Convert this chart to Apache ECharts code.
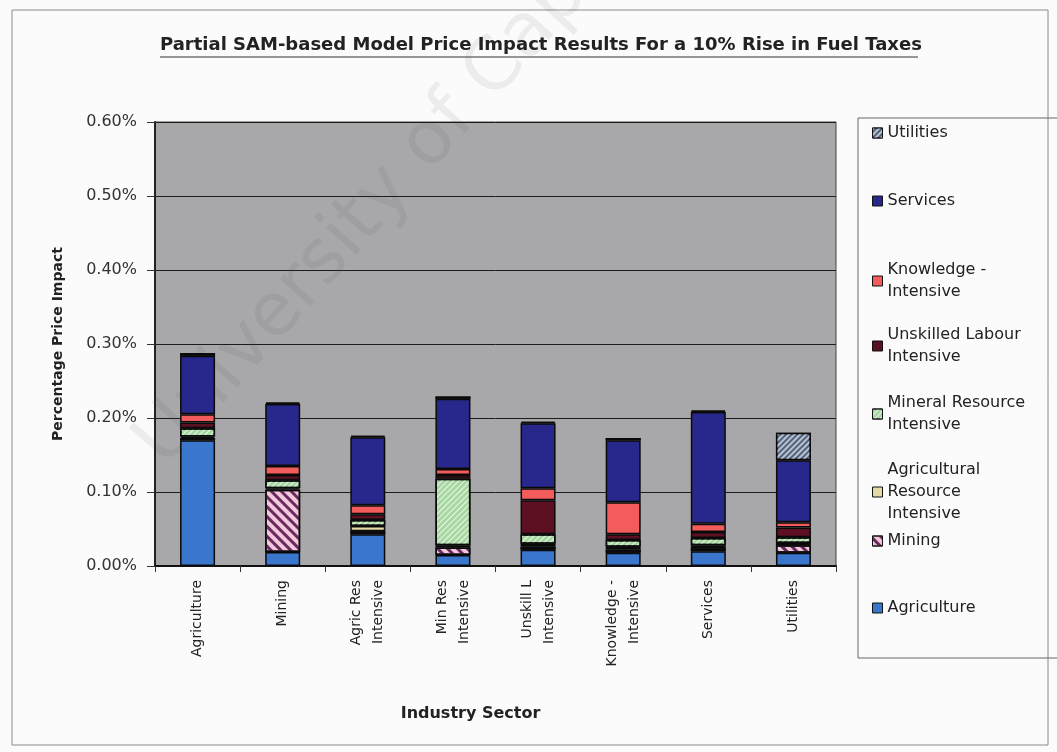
<!DOCTYPE html>
<html>
<head>
<meta charset="utf-8">
<script src="https://cdn.jsdelivr.net/npm/echarts@6/dist/echarts.min.js"></script>
<style>
  html, body { margin: 0; padding: 0; background: #fbfbfb; }
  #chart { width: 1057px; height: 752px; }
</style>
</head>
<body>
<div id="chart"></div>
<script>
// Industry sectors on the x axis
const categories = [
  'Agriculture', 'Mining', 'Agric Res\nIntensive', 'Min Res\nIntensive',
  'Unskill L\nIntensive', 'Knowledge -\nIntensive', 'Services', 'Utilities'
];

// Y axis ticks (percentage price impact)
const yTicks = [0, 0.1, 0.2, 0.3, 0.4, 0.5, 0.6];

// Contribution of each input sector to the price impact (%), stacked bottom to top
const agriculture = [0.170, 0.019, 0.043, 0.015, 0.022, 0.018, 0.020, 0.018];
const mining      = [0.003, 0.084, 0.004, 0.010, 0.004, 0.004, 0.004, 0.010];
const agricRes    = [0.002, 0.002, 0.007, 0.003, 0.004, 0.004, 0.004, 0.003];
const mineralRes  = [0.011, 0.011, 0.008, 0.090, 0.013, 0.009, 0.010, 0.008];
const unskilled   = [0.008, 0.007, 0.008, 0.005, 0.046, 0.008, 0.008, 0.013];
const knowledge   = [0.011, 0.012, 0.012, 0.008, 0.016, 0.043, 0.011, 0.007];
const services    = [0.079, 0.084, 0.092, 0.095, 0.088, 0.084, 0.151, 0.084];
const utilities   = [0.004, 0.002, 0.002, 0.003, 0.002, 0.003, 0.002, 0.037];

const seriesNames = [
  'Agriculture', 'Mining', 'Agricultural Resource Intensive', 'Mineral Resource Intensive',
  'Unskilled Labour Intensive', 'Knowledge - Intensive', 'Services', 'Utilities'
];
const legendLabels = [
  'Agriculture', 'Mining', 'Agricultural\nResource\nIntensive', 'Mineral Resource\nIntensive',
  'Unskilled Labour\nIntensive', 'Knowledge -\nIntensive', 'Services', 'Utilities'
];
const seriesValues = [agriculture, mining, agricRes, mineralRes, unskilled, knowledge, services, utilities];

const FONT = 'DejaVu Sans';

// Fill colours and hatching for each stacked segment
const segmentStyles = [
  { color: '#3a76cc' },
  { color: '#f2c8dc', decal: { symbol: 'rect', symbolSize: 1, rotation: Math.PI / 4, dashArrayX: [1, 0], dashArrayY: [3, 4], color: '#6a2a5e' } },
  { color: '#e4daa4' },
  { color: '#a8d8a2', decal: { symbol: 'rect', symbolSize: 1, rotation: -Math.PI / 4, dashArrayX: [1, 0], dashArrayY: [1, 3], color: 'rgba(255,255,255,0.75)' } },
  { color: '#5c1022' },
  { color: '#f25c5c' },
  { color: '#28288c' },
  { color: '#53627c', decal: { symbol: 'rect', symbolSize: 1, rotation: -Math.PI / 4, dashArrayX: [1, 0], dashArrayY: [2, 2], color: '#b9c2d2' } }
];

// Vertical centre of each legend entry's first line
const legendCentres = [607, 540, 472, 405, 337, 272, 200, 132];

const chart = echarts.init(document.getElementById('chart'));

const series = seriesNames.map((name, i) => ({
  name: name,
  type: 'bar',
  stack: 'impact',
  barWidth: 35,
  data: seriesValues[i],
  itemStyle: Object.assign({ borderColor: '#0a0a0a', borderWidth: 1.5 }, segmentStyles[i]),
  emphasis: { disabled: true }
}));

const legends = seriesNames.map((name, i) => ({
  data: [name],
  orient: 'vertical',
  left: 872,
  top: legendCentres[i] - 10,
  padding: 0,
  icon: 'rect',
  itemWidth: 10,
  itemHeight: 10,
  itemGap: 0,
  selectedMode: false,
  itemStyle: { borderColor: '#111', borderWidth: 1 },
  formatter: () => legendLabels[i],
  textStyle: { fontFamily: FONT, fontSize: 16, color: '#222', lineHeight: 22, height: 22 }
}));

chart.setOption({
  backgroundColor: '#fbfbfb',
  animation: false,
  title: {
    text: 'Partial SAM-based Model Price Impact Results For a 10% Rise in Fuel Taxes',
    left: 160,
    top: 36,
    padding: 0,
    textStyle: { fontFamily: FONT, fontSize: 18, fontWeight: 'bold', color: '#222' }
  },
  legend: legends,
  grid: {
    left: 155, right: 221, top: 122, bottom: 186,
    show: true, backgroundColor: '#a8a8aa', borderColor: '#444', borderWidth: 1
  },
  xAxis: {
    type: 'category',
    data: categories,
    name: 'Industry Sector',
    nameLocation: 'middle',
    nameGap: 140,
    nameTextStyle: { fontFamily: FONT, fontSize: 16, fontWeight: 'bold', color: '#222', padding: [0, 50, 0, 0] },
    axisLine: { lineStyle: { color: '#111', width: 2 } },
    axisTick: { show: true, length: 6, lineStyle: { color: '#333' } },
    axisLabel: { rotate: 90, margin: 14, fontFamily: FONT, fontSize: 14, lineHeight: 22, color: '#222', interval: 0 }
  },
  yAxis: {
    type: 'value',
    min: yTicks[0],
    max: yTicks[yTicks.length - 1],
    interval: 0.1,
    name: 'Percentage Price Impact',
    nameLocation: 'middle',
    nameGap: 90,
    nameTextStyle: { fontFamily: FONT, fontSize: 14, fontWeight: 'bold', color: '#222' },
    axisLine: { show: true, lineStyle: { color: '#222', width: 2 } },
    axisTick: { show: true, length: 8, lineStyle: { color: '#333' } },
    axisLabel: { margin: 18, fontFamily: FONT, fontSize: 16, color: '#333', formatter: v => v.toFixed(2) + '%' },
    splitLine: { show: true, lineStyle: { color: '#1c1c1c', width: 1 } }
  },
  series: series,
  graphic: [
    { type: 'rect', silent: true, z: -1, shape: { x: 12, y: 10, width: 1036, height: 735 }, style: { fill: 'none', stroke: '#8a8a8a', lineWidth: 1 } },
    { type: 'rect', silent: true, shape: { x: 858, y: 118, width: 230, height: 540 }, style: { fill: 'none', stroke: '#666', lineWidth: 1 } },
    { type: 'line', silent: true, shape: { x1: 160, y1: 57, x2: 918, y2: 57 }, style: { stroke: '#333', lineWidth: 1 } },
    { type: 'text', silent: true, z: 1, x: 178, y: 480, rotation: 0.84,
      style: { text: 'University of Cape Town', fontFamily: FONT, fontSize: 74, fill: 'rgba(60,60,60,0.08)', textAlign: 'left', textVerticalAlign: 'bottom' } }
  ]
});
</script>
</body>
</html>
